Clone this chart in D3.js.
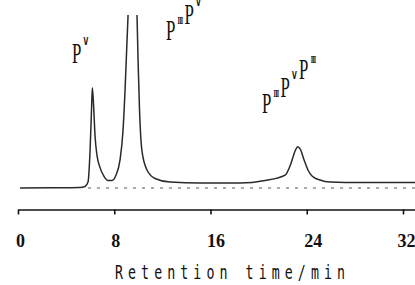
<!DOCTYPE html>
<head>
    <meta charset="utf-8">
    <script src="https://d3js.org/d3.v7.min.js"></script>
    <style>
        body { margin: 0; background: #fff; }
    </style>
</head>

<body>
    <div id="chrom"></div>
</body>

<script>

    // retention time (min) and detector signal (arbitrary units)
    const times   = [0.17, 2.66, 5.15, 5.57, 5.82, 5.99, 6.11, 6.18, 6.28, 6.40, 6.57, 6.82, 7.15, 7.48, 7.81,
                     8.15, 8.48, 8.73, 8.90, 9.03, 9.15, 9.48, 9.89, 9.98, 10.10, 10.30, 10.72, 11.39, 12.64,
                     15.13, 18.45, 20.53, 22.20, 22.70, 23.03, 23.25, 23.45, 23.78, 24.10, 24.44, 25.10, 25.94,
                     28.43, 33.00];
    const signal  = [0.0, 0.1, 0.3, 0.9, 3.5, 22, 46, 59, 49, 31, 19, 12, 6.8, 4.4, 4.4,
                     7.6, 16.5, 34, 58, 81, 102, 150, 102, 75, 46, 22, 10.6, 5.6, 3.5,
                     2.9, 2.9, 4.4, 7.6, 14.7, 21.8, 24.3, 23, 16.5, 10.6, 7.1, 4.7, 3.5,
                     3.2, 3.2];

    const xTicks = [0, 8, 16, 24, 32];
    const xTitle = "Retention time/min";

    // peak labels: [main, superscript] pairs
    const peakLabels = [
        {t: 6.18,  s: 59,   parts: [["P", "V"]]},
        {t: 9.48,  s: 102,  parts: [["P", "III"], ["P", "V"]]},
        {t: 23.25, s: 24.3, parts: [["P", "III"], ["P", "V"], ["P", "III"]]}
    ];

    const W = 415, H = 285;
    const serif = "'Liberation Serif', 'Times New Roman', 'DejaVu Serif', serif";

    const svg = d3.select("#chrom")
        .append("svg")
            .attr("width", W)
            .attr("height", H);

    const x = d3.scaleLinear().domain([0, 32]).range([18, 403]);
    const y = d3.scaleLinear().domain([0, 100]).range([188, 18]);

    svg.append("clipPath").attr("id", "clip")
        .append("rect")
            .attr("x", 0).attr("y", 15)
            .attr("width", W).attr("height", H);

    // dashed baseline
    svg.append("line")
        .attr("x1", 88).attr("x2", W)
        .attr("y1", y(0)).attr("y2", y(0))
        .attr("stroke", "#555")
        .attr("stroke-width", 1)
        .attr("stroke-dasharray", "3,6");

    // trace
    const pts = times.map((t, i) => [t, signal[i]]);
    svg.append("path")
        .datum(pts)
        .attr("clip-path", "url(#clip)")
        .attr("fill", "none")
        .attr("stroke", "#2a2a2a")
        .attr("stroke-width", 1.5)
        .attr("d", d3.line()
            .x(d => x(d[0]))
            .y(d => y(d[1]))
            .curve(d3.curveMonotoneX));

    // X axis
    const xAxisScale = x.copy().domain([0, 33.5]).range([18, x(33.5)]);
    const ax = svg.append("g")
        .attr("transform", "translate(0,209.5)")
        .call(d3.axisBottom(xAxisScale).tickValues(xTicks).tickSizeInner(5).tickSizeOuter(0));
    ax.attr("font-family", null);
    ax.select(".domain").attr("stroke", "#111").attr("stroke-width", 1.6);
    ax.selectAll(".tick line").attr("stroke", "#111").attr("stroke-width", 1.6);
    ax.selectAll(".tick text")
        .attr("y", 37)
        .attr("dy", 0)
        .attr("dx", (d, i) => [2, 1, 5, 6, 3][i])
        .style("font-family", serif)
        .style("font-size", "18px")
        .style("font-weight", "bold")
        .attr("fill", "#111");

    // axis title
    svg.append("text")
        .attr("transform", "translate(115,279) scale(0.7,1)")
        .attr("textLength", 230 / 0.7)
        .attr("lengthAdjust", "spacing")
        .style("font-family", "'DejaVu Sans Mono', monospace")
        .style("font-size", "19px")
        .attr("fill", "#111")
        .text(xTitle);

    // peak labels
    const labelPos = [[72, 63], [166, 40], [262, 113]];
    peakLabels.forEach((lab, i) => {
        const txt = svg.append("text")
            .attr("transform", `translate(${labelPos[i][0]},${labelPos[i][1]}) scale(0.56,1)`)
            .style("font-family", serif)
            .style("font-size", "30px")
            .attr("fill", "#111");
        lab.parts.forEach((p, j) => {
            const isV = p[1] === "V";
            const up = isV ? 18 : 16;
            txt.append("tspan")
                .attr("dx", j === 0 ? 0 : 4)
                .text(p[0]);
            txt.append("tspan")
                .attr("dx", 4)
                .attr("dy", -up)
                .style("font-size", isV ? "11px" : "11px")
                .style("font-family", isV ? "'DejaVu Sans', sans-serif" : serif)
                .style("font-weight", "bold")
                .style("letter-spacing", isV ? "0px" : "-1.5px")
                .text(p[1]);
            // back to the baseline for the next part
            txt.append("tspan").attr("dy", up).text("");
        });
    });

</script>
</html>
